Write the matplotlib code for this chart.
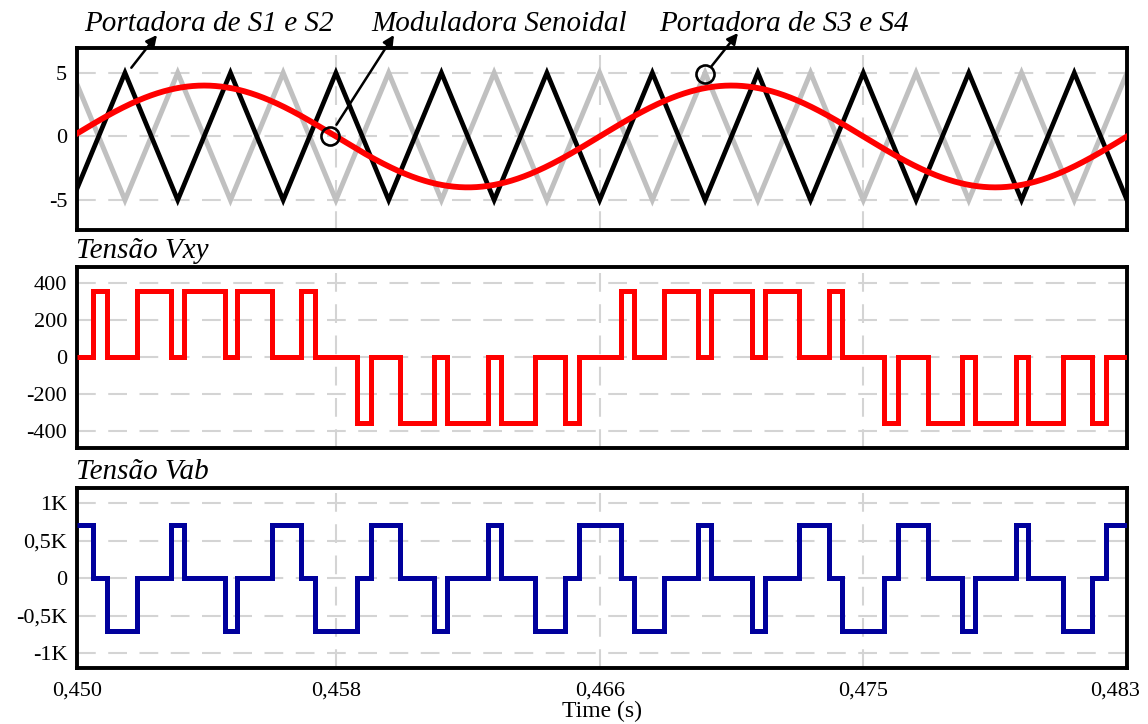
import numpy as np
import matplotlib
matplotlib.use("Agg")
import matplotlib.pyplot as plt
import matplotlib.transforms as mtransforms

plt.rcParams['font.family'] = ['Liberation Serif', 'DejaVu Serif']

# ---------------- data ----------------
t_start, t_end = 0.45015, 0.483333
x_ticks = [0.45015, 0.458333, 0.466667, 0.475, 0.483333]
x_ticklabels = ["0,450", "0,458", "0,466", "0,475", "0,483"]

# carriers (triangle vertices)
carrier_t = [0.450000, 0.451667, 0.453333, 0.455000, 0.456667, 0.458333, 0.460000,
             0.461667, 0.463333, 0.465000, 0.466667, 0.468333, 0.470000, 0.471667,
             0.473333, 0.475000, 0.476667, 0.478333, 0.480000, 0.481667, 0.483333]
carrier_s12 = [-5, 5, -5, 5, -5, 5, -5, 5, -5, 5, -5, 5, -5, 5, -5, 5, -5, 5, -5, 5, -5]
carrier_s34 = [5, -5, 5, -5, 5, -5, 5, -5, 5, -5, 5, -5, 5, -5, 5, -5, 5, -5, 5, -5, 5]

# sinusoidal modulator
mod_amp = 4.0
mod_freq = 60.0
mod_t0 = 0.45

# switching instants (step edges)
step_edges = [0.45015,
              0.450667, 0.451100, 0.452037, 0.453113, 0.453520, 0.454813, 0.455220, 0.456297, 0.457233, 0.457667,
              0.459000, 0.459433, 0.460370, 0.461447, 0.461853, 0.463147, 0.463553, 0.464630, 0.465567, 0.466000,
              0.467333, 0.467767, 0.468703, 0.469780, 0.470187, 0.471480, 0.471887, 0.472963, 0.473900, 0.474333,
              0.475667, 0.476100, 0.477037, 0.478113, 0.478520, 0.479813, 0.480220, 0.481297, 0.482233, 0.482667,
              0.483333]
vxy_levels = [0, 360, 0, 360, 0, 360, 0, 360, 0, 360, 0,
              -360, 0, -360, 0, -360, 0, -360, 0, -360, 0,
              360, 0, 360, 0, 360, 0, 360, 0, 360, 0,
              -360, 0, -360, 0, -360, 0, -360, 0, -360, 0]
vab_levels = [710, 0, -710, 0, 710, 0, -710, 0, 710, 0, -710,
              0, 710, 0, -710, 0, 710, 0, -710, 0, 710,
              0, -710, 0, 710, 0, -710, 0, 710, 0, -710,
              0, 710, 0, -710, 0, 710, 0, -710, 0, 710]

top_yticks = [5, 0, -5]
top_yticklabels = ["5", "0", "-5"]
mid_yticks = [400, 200, 0, -200, -400]
mid_yticklabels = ["400", "200", "0", "-200", "-400"]
bot_yticks = [1000, 500, 0, -500, -1000]
bot_yticklabels = ["1K", "0,5K", "0", "-0,5K", "-1K"]

# ---------------- figure ----------------
W, H = 1148, 724
fig = plt.figure(figsize=(W / 100, H / 100), dpi=100)

def px_axes(x0, y0, x1, y1):
    return fig.add_axes([x0 / W, 1 - y1 / H, (x1 - x0) / W, (y1 - y0) / H])

ax1 = px_axes(77, 48, 1127, 230)
ax2 = px_axes(77, 267, 1127, 448)
ax3 = px_axes(77, 488, 1127, 668)

grid_kw = dict(color='#d4d4d4', lw=1.5, linestyle=(0, (9, 6)))
for ax in (ax1, ax2, ax3):
    ax.set_xlim(t_start, t_end)
    ax.set_xticks(x_ticks)
    ax.grid(True, **grid_kw)
    ax.set_axisbelow(True)
    for sp in ax.spines.values():
        sp.set_linewidth(2.8)
        sp.set_color('black')
    ax.tick_params(length=0, labelsize=16, pad=7)

ax1.set_xticklabels([])
ax2.set_xticklabels([])
ax3.set_xticklabels(x_ticklabels)
ax3.tick_params(axis='x', pad=10)
last = ax3.get_xticklabels()[-1]
last.set_horizontalalignment('right')
last.set_transform(last.get_transform() + mtransforms.ScaledTranslation(13 / 100, 0, fig.dpi_scale_trans))

# top panel
ax1.plot(carrier_t, carrier_s34, color='#c0c0c0', lw=3.6, solid_joinstyle='miter', zorder=2)
ax1.plot(carrier_t, carrier_s12, color='black', lw=3.4, solid_joinstyle='miter', zorder=3)
tt = np.linspace(t_start, t_end, 2000)
ax1.plot(tt, mod_amp * np.sin(2 * np.pi * mod_freq * (tt - mod_t0)), color='#ff0000', lw=4.2, zorder=4)
ax1.set_ylim(-7.35, 6.95)
ax1.set_yticks(top_yticks)
ax1.set_yticklabels(top_yticklabels)

# middle panel
ax2.stairs(vxy_levels, step_edges, baseline=None, edgecolor='#ff0000', linewidth=3.6,
           joinstyle='miter', zorder=3)
ax2.set_ylim(-494, 488)
ax2.set_yticks(mid_yticks)
ax2.set_yticklabels(mid_yticklabels)

# bottom panel
ax3.stairs(vab_levels, step_edges, baseline=None, edgecolor='#00009c', linewidth=3.6,
           joinstyle='miter', zorder=3)
ax3.set_ylim(-1196, 1200)
ax3.set_yticks(bot_yticks)
ax3.set_yticklabels(bot_yticklabels)
ax3.set_xlabel("Time (s)", fontsize=17, labelpad=0)

# panel titles
fig.text(76 / W, 1 - 258 / H, "Tensão Vxy", fontsize=21, style='italic', ha='left', va='baseline')
fig.text(76 / W, 1 - 479 / H, "Tensão Vab", fontsize=21, style='italic', ha='left', va='baseline')

# annotations
fig.text(209 / W, 1 - 31 / H, "Portadora de S1 e S2", fontsize=21, style='italic', ha='center', va='baseline')
fig.text(499 / W, 1 - 31 / H, "Moduladora Senoidal", fontsize=21, style='italic', ha='center', va='baseline')
fig.text(784 / W, 1 - 31 / H, "Portadora de S3 e S4", fontsize=21, style='italic', ha='center', va='baseline')

arrow_kw = dict(arrowstyle='-|>', color='black', lw=1.8, mutation_scale=16, shrinkA=0, shrinkB=0)
ax1.annotate('', xy=(157, H - 35), xycoords='figure pixels', xytext=(0.451867, 5.4),
             textcoords='data', arrowprops=arrow_kw, annotation_clip=False)
ax1.annotate('', xy=(394, H - 35), xycoords='figure pixels', xytext=(0.458350, 0.92),
             textcoords='data', arrowprops=arrow_kw, annotation_clip=False)
ax1.annotate('', xy=(738, H - 33), xycoords='figure pixels', xytext=(0.470200, 5.51),
             textcoords='data', arrowprops=arrow_kw, annotation_clip=False)
ax1.plot([0.458133], [0.0], marker='o', markersize=13, markerfacecolor='none',
         markeredgecolor='black', markeredgewidth=1.9, zorder=6)
ax1.plot([0.470000], [4.9], marker='o', markersize=13, markerfacecolor='none',
         markeredgecolor='black', markeredgewidth=1.9, zorder=6, clip_on=False)

fig.savefig("out.png", dpi=100)
